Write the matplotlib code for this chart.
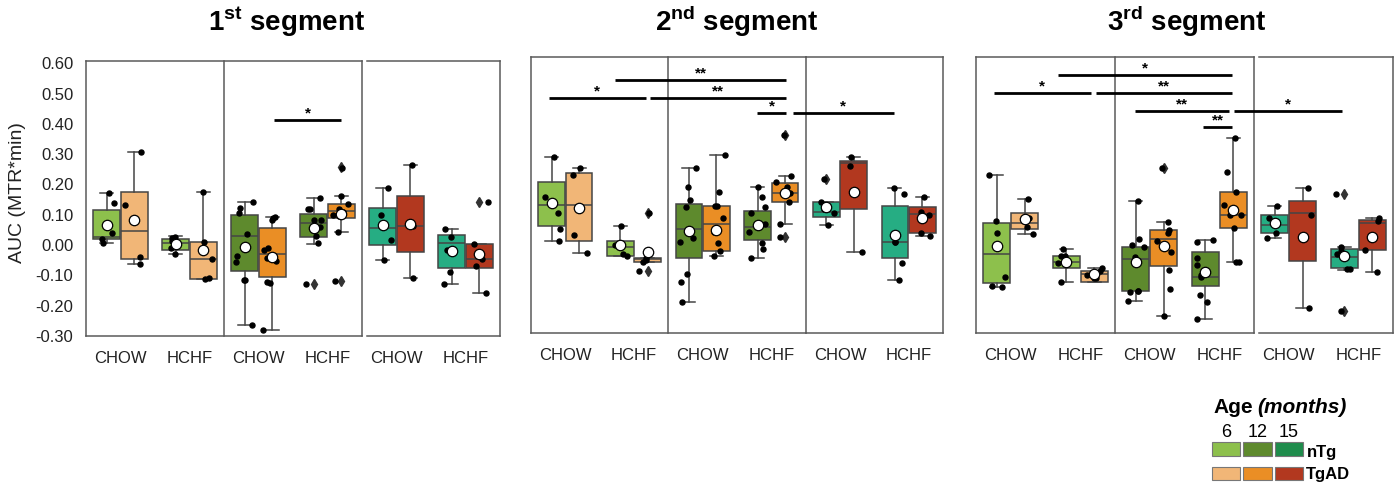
import numpy as np
import matplotlib
matplotlib.use("Agg")
import matplotlib.pyplot as plt
from matplotlib.patches import Rectangle

plt.rcParams['font.family'] = ['Liberation Sans', 'DejaVu Sans']
plt.rcParams['mathtext.fontset'] = 'custom'
plt.rcParams['mathtext.rm'] = 'Liberation Sans'
plt.rcParams['mathtext.bf'] = 'Liberation Sans:bold'

# ---------------- data ----------------
segment_titles = [r"$\mathbf{1}^{\mathbf{st}}$ segment",
                  r"$\mathbf{2}^{\mathbf{nd}}$ segment",
                  r"$\mathbf{3}^{\mathbf{rd}}$ segment"]
ages = [6, 12, 15]
diets = ["CHOW", "HCHF"]
genotypes = ["nTg", "TgAD"]
ytick_values = [-0.30, -0.20, -0.10, 0.00, 0.10, 0.20, 0.30, 0.40, 0.50, 0.60]
ylabel = "AUC (MTR*min)"

# group order in each segment: age6 (CHOW nTg, CHOW TgAD, HCHF nTg, HCHF TgAD), age12 (...), age15 (...)
seg1_lo   = [0.008, -0.064, -0.030, -0.111, -0.264, -0.280, 0.005, 0.043, -0.050, -0.108, -0.130, -0.157]
seg1_q1   = [0.019, -0.045, -0.017, -0.111, -0.087, -0.104, 0.028, 0.091, -0.001, -0.022, -0.075, -0.075]
seg1_med  = [0.027, 0.046, 0.008, -0.045, 0.031, -0.028, 0.074, 0.113, 0.057, 0.063, 0.006, -0.047]
seg1_q3   = [0.115, 0.175, 0.021, 0.010, 0.098, 0.057, 0.102, 0.135, 0.123, 0.162, 0.032, 0.002]
seg1_hi   = [0.173, 0.308, 0.030, 0.175, 0.143, 0.094, 0.156, 0.163, 0.190, 0.264, 0.054, 0.002]
seg1_mean = [0.066, 0.083, 0.002, -0.017, -0.005, -0.038, 0.057, 0.102, 0.065, 0.070, -0.020, -0.029]
seg1_fliers = [[], [], [], [], [], [], [-0.130], [0.258, -0.119], [], [], [], [0.143]]
seg1_points = [
    [0.173, 0.139, 0.041, 0.019, 0.006],
    [0.308, 0.132, -0.038, -0.064],
    [0.027, 0.022, 0.014, -0.008, -0.030],
    [0.175, 0.010, -0.045, -0.110, -0.112],
    [0.143, 0.121, 0.105, 0.035, -0.035, -0.057, -0.116, -0.116, -0.264],
    [0.094, 0.090, 0.083, -0.011, -0.015, -0.044, -0.053, -0.123, -0.126, -0.280],
    [0.156, 0.118, 0.118, 0.083, 0.083, 0.061, 0.030, 0.006, -0.130],
    [0.255, 0.163, 0.135, 0.120, 0.110, 0.100, 0.095, 0.043, -0.119],
    [0.190, 0.100, 0.016, -0.050],
    [0.264, 0.063, -0.108],
    [0.054, 0.027, -0.016, -0.089, -0.130],
    [0.143, 0.002, -0.047, -0.070, -0.157],
]

seg2_lo   = [0.004, -0.037, -0.045, -0.065, -0.199, -0.045, -0.054, 0.060, 0.058, -0.034, -0.125, 0.021]
seg2_q1   = [0.054, 0.004, -0.045, -0.065, -0.051, -0.029, 0.007, 0.131, 0.084, 0.108, -0.054, 0.031]
seg2_med  = [0.121, 0.121, -0.015, -0.057, 0.043, 0.059, 0.051, 0.163, 0.100, 0.260, 0.001, 0.092]
seg2_q3   = [0.199, 0.227, 0.003, -0.051, 0.125, 0.120, 0.103, 0.196, 0.133, 0.267, 0.119, 0.115]
seg2_hi   = [0.280, 0.245, 0.053, -0.051, 0.246, 0.287, 0.183, 0.219, 0.133, 0.280, 0.179, 0.150]
seg2_mean = [0.130, 0.113, -0.008, -0.032, 0.037, 0.040, 0.058, 0.163, 0.117, 0.164, 0.023, 0.081]
seg2_fliers = [[], [], [], [0.095, -0.095], [], [], [], [0.355, 0.017], [0.208], [], [], []]
seg2_points = [
    [0.280, 0.150, 0.095, 0.043, 0.004],
    [0.245, 0.221, 0.023, -0.037],
    [0.053, -0.010, -0.045, -0.040],
    [0.095, -0.051, -0.060, -0.065, -0.095],
    [0.246, 0.183, 0.139, 0.117, 0.012, 0.000, -0.106, -0.133, -0.199],
    [0.287, 0.166, 0.120, 0.120, 0.080, 0.034, -0.002, -0.030, -0.045],
    [0.183, 0.150, 0.117, 0.095, 0.060, 0.034, -0.002, -0.023, -0.054],
    [0.355, 0.219, 0.200, 0.183, 0.163, 0.160, 0.131, 0.060, 0.017],
    [0.208, 0.133, 0.108, 0.095, 0.058],
    [0.280, 0.252, -0.034],
    [0.179, 0.158, 0.001, 0.000, -0.070, -0.125],
    [0.150, 0.100, 0.090, 0.031, 0.021],
]

seg3_lo   = [-0.147, 0.026, -0.131, -0.131, -0.194, -0.244, -0.254, -0.065, 0.014, -0.216, -0.092, -0.098]
seg3_q1   = [-0.136, 0.043, -0.087, -0.131, -0.162, -0.079, -0.144, 0.045, 0.029, -0.062, -0.087, -0.026]
seg3_med  = [-0.040, 0.064, -0.066, -0.106, -0.057, 0.009, -0.115, 0.091, 0.058, 0.097, -0.048, 0.062]
seg3_q3   = [0.062, 0.097, -0.045, -0.095, -0.015, 0.040, -0.033, 0.166, 0.091, 0.135, -0.023, 0.073]
seg3_hi   = [0.220, 0.143, -0.024, -0.087, 0.136, 0.067, 0.007, 0.344, 0.120, 0.177, -0.015, 0.080]
seg3_mean = [-0.013, 0.076, -0.066, -0.106, -0.066, -0.013, -0.100, 0.106, 0.062, 0.018, -0.046, 0.016]
seg3_fliers = [[], [], [], [], [], [0.243], [], [], [], [], [0.158, -0.228], []]
seg3_points = [
    [0.220, 0.070, 0.031, -0.114, -0.145, -0.147],
    [0.143, 0.080, 0.050, 0.026],
    [-0.024, -0.045, -0.045, -0.070, -0.131],
    [-0.087, -0.095, -0.110, -0.120, -0.120],
    [0.136, 0.011, -0.010, -0.015, -0.050, -0.160, -0.162, -0.165, -0.194],
    [0.243, 0.067, 0.040, 0.030, 0.005, -0.032, -0.092, -0.155, -0.244],
    [0.007, 0.000, -0.054, -0.076, -0.109, -0.115, -0.173, -0.199, -0.254],
    [0.344, 0.230, 0.166, 0.122, 0.090, 0.090, 0.045, -0.065, -0.067],
    [0.120, 0.080, 0.030, 0.014],
    [0.177, 0.090, -0.216],
    [0.158, -0.015, -0.030, -0.040, -0.090, -0.090, -0.228],
    [0.080, 0.070, -0.026, -0.098],
]

# significance bars: (x start, x end, y level, label)
seg1_sig = [(2.22, 3.20, 0.413, "*")]
seg2_sig = [(-0.24, 1.17, 0.475, "*"), (0.72, 3.22, 0.535, "**"), (1.24, 3.22, 0.476, "**"),
            (2.79, 3.22, 0.427, "*"), (3.31, 4.79, 0.427, "*")]
seg3_sig = [(0.68, 3.18, 0.551, "*"), (-0.24, 1.15, 0.493, "*"), (1.23, 3.18, 0.493, "**"),
            (1.79, 3.14, 0.432, "**"), (3.21, 4.77, 0.432, "*"), (2.77, 3.18, 0.379, "**")]

segments = [
    (seg1_lo, seg1_q1, seg1_med, seg1_q3, seg1_hi, seg1_mean, seg1_fliers, seg1_points, seg1_sig),
    (seg2_lo, seg2_q1, seg2_med, seg2_q3, seg2_hi, seg2_mean, seg2_fliers, seg2_points, seg2_sig),
    (seg3_lo, seg3_q1, seg3_med, seg3_q3, seg3_hi, seg3_mean, seg3_fliers, seg3_points, seg3_sig),
]

# ---------------- style ----------------
W, H = 1398, 483
ntg_colors = ['#8dc04c', '#5e8a2d', '#26ad83']
tgad_colors = ['#f1b677', '#ea8e25', '#b2381f']
legend_ntg = ['#8dc04c', '#5e8a2d', '#1f8c4c']
legend_tgad = ['#f1b677', '#ea8e25', '#b2381f']
edge = '#454545'
frame_col = '#5a5a5a'

# axes rectangles in pixels: (left, top, right, bottom)
panel_px = [(86, 61, 500, 336), (531, 57, 943, 333), (976, 57, 1393, 333)]
third_frame_start = [3.57, 3.5, 3.57]
title_x = [287, 737, 1187]

fig = plt.figure(figsize=(W / 100, H / 100), dpi=100)
rng = np.random.default_rng(7)

for si, (lo, q1, med, q3, hi, mean, fliers, pts, sig) in enumerate(segments):
    l, t, r, b = panel_px[si]
    ax = fig.add_axes([l / W, 1 - b / H, (r - l) / W, (b - t) / H])
    ytop = -0.30 + (b - t) / 303.0
    ax.set_ylim(-0.30, ytop)
    ax.set_xlim(-0.5, 5.5)

    positions, colors, stats = [], [], []
    for g in range(12):
        a, d, k = g // 4, (g // 2) % 2, g % 2
        positions.append(2 * a + d + (-0.2 if k == 0 else 0.2))
        colors.append(ntg_colors[a] if k == 0 else tgad_colors[a])
        stats.append(dict(med=med[g], q1=q1[g], q3=q3[g], whislo=lo[g], whishi=hi[g],
                          mean=mean[g], fliers=fliers[g]))

    bp = ax.bxp(stats, positions=positions, widths=0.39, patch_artist=True,
                showmeans=False, showfliers=True, capwidths=0.19,
                boxprops=dict(edgecolor=edge, linewidth=1.1),
                medianprops=dict(color=edge, linewidth=1.1),
                whiskerprops=dict(color=edge, linewidth=1.1),
                capprops=dict(color=edge, linewidth=1.1),
                flierprops=dict(marker='d', markerfacecolor='#333333', markeredgecolor='#333333',
                                markersize=5.5, linestyle='none'))
    for patch, c in zip(bp['boxes'], colors):
        patch.set_facecolor(c)
        patch.set_zorder(2)

    for g in range(12):
        vals = np.array(pts[g])
        jit = rng.uniform(-0.13, 0.13, size=len(vals))
        ax.plot(positions[g] + jit, vals, 'o', color='black', markersize=3.6, zorder=4)
        ax.plot([positions[g]], [mean[g]], 'o', markerfacecolor='white', markeredgecolor='black',
                markeredgewidth=0.9, markersize=7.5, zorder=5)

    # frames
    for s in ax.spines.values():
        s.set_visible(False)
    xs3 = third_frame_start[si]
    lk = dict(color=frame_col, linewidth=1.1, clip_on=False, zorder=1)
    for yy in (-0.30, ytop):
        ax.plot([-0.5, 3.5], [yy, yy], **lk)
        ax.plot([xs3, 5.5], [yy, yy], **lk)
    for xx in (-0.5, 1.5, 3.5, 5.5):
        ax.plot([xx, xx], [-0.30, ytop], **lk)

    # significance
    for x0, x1, yy, lab in sig:
        ax.plot([x0, x1], [yy, yy], color='black', linewidth=2.0, solid_capstyle='butt', zorder=6)
        ax.text((x0 + x1) / 2, yy + 0.021, lab, ha='center', va='center', fontsize=11,
                fontweight='bold', zorder=6)

    ax.set_xticks(range(6))
    ax.set_xticklabels(diets * 3, fontsize=12, color='#222222')
    ax.tick_params(axis='x', length=0, pad=11)
    if si == 0:
        ax.set_yticks(ytick_values)
        ax.set_yticklabels([f"{v:.2f}" for v in ytick_values], fontsize=12, color='#222222')
        ax.tick_params(axis='y', length=0, pad=9)
    else:
        ax.set_yticks([])

    fig.text(title_x[si] / W, 1 - 31 / H, segment_titles[si], ha='center', va='baseline',
             fontsize=20, fontweight='bold')

fig.text(18 / W, 1 - 193 / H, ylabel, rotation=90, ha='center', va='center', fontsize=14,
         color='#222222')

# legend
renderer = fig.canvas.get_renderer()
t_age = fig.text(1213 / W, 1 - 413 / H, "Age", fontsize=15, fontweight='bold', ha='left', va='baseline')
bb = t_age.get_window_extent(renderer=renderer)
fig.text((bb.x1 + 5) / W, 1 - 413 / H, "(months)", fontsize=15, fontweight='bold', style='italic',
         ha='left', va='baseline')
patch_x = [(1212, 1240), (1243, 1272), (1275, 1303)]
for i, age in enumerate(ages):
    x0, x1 = patch_x[i]
    fig.text((x0 + x1) / 2 / W, 1 - 437 / H, str(age), fontsize=13, ha='center', va='baseline')
    for (y0, y1), c in (((442, 456), legend_ntg[i]), ((467, 480), legend_tgad[i])):
        fig.add_artist(Rectangle((x0 / W, 1 - y1 / H), (x1 - x0) / W, (y1 - y0) / H,
                                 transform=fig.transFigure, facecolor=c, edgecolor='#777777',
                                 linewidth=0.8))
fig.text(1307 / W, 1 - 457 / H, genotypes[0], fontsize=12, fontweight='bold', ha='left', va='baseline')
fig.text(1306 / W, 1 - 479 / H, genotypes[1], fontsize=12, fontweight='bold', ha='left', va='baseline')

fig.savefig("out.png", dpi=100, facecolor='white')
